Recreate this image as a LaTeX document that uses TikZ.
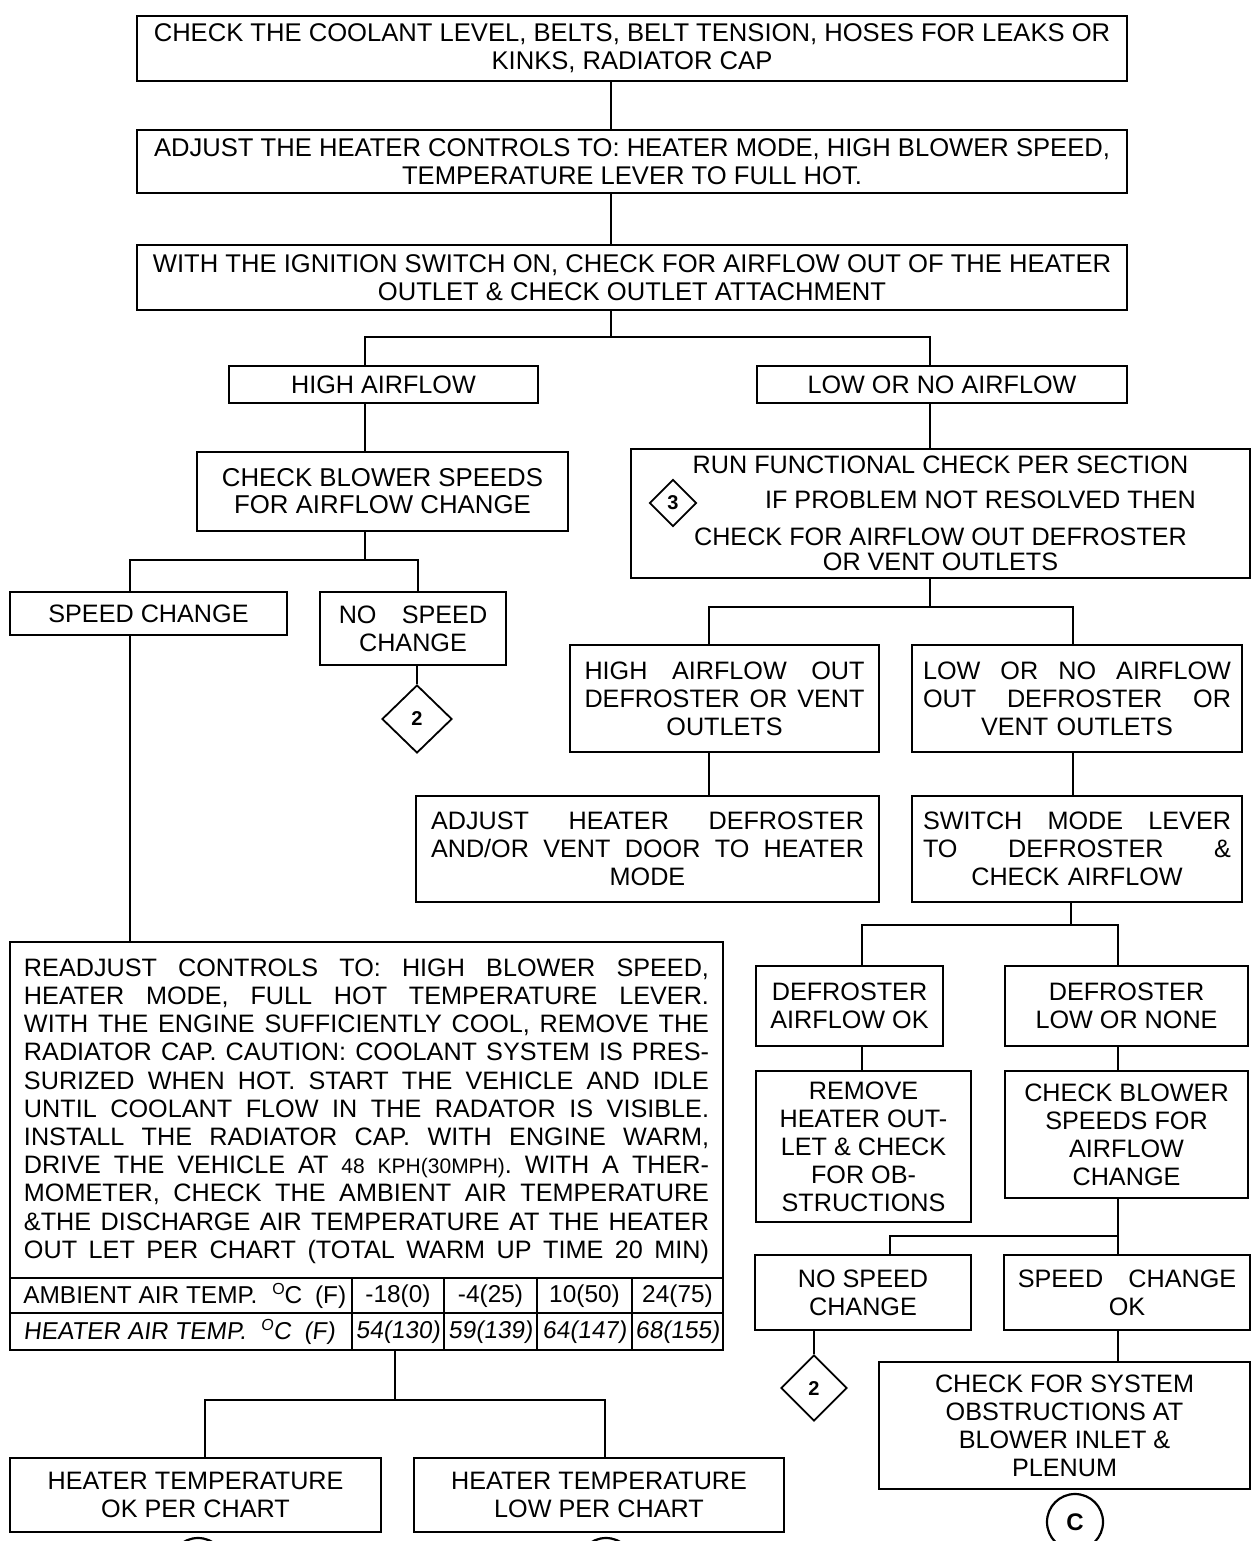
\documentclass[tikz,border=0pt]{standalone}
\usepackage{fontspec}
\setmainfont{Liberation Sans}
\newfontfamily\slantfont[FakeSlant=0.12]{Liberation Sans}
\usetikzlibrary{shapes.geometric}

% one justified line of a block paragraph, as wide as \jlw
\newlength\jlw
\newcommand\jl[1]{\leavevmode\hbox to\jlw{\spaceskip=0.28em plus 1fil\relax #1}}
% small raised "O" used as degree mark
\newcommand\degO{\raisebox{0.75ex}{\fontsize{8}{8}\selectfont O}}
% rectangular step box given by its corners (x1,y1)-(x2,y2)
\newcommand\flowbox[7][]{%
  \node[box,#1,minimum width={(#5-#3)*0.5pt},minimum height={(#6-#4)*0.5pt}]
    (#2) at ({(#3+#5)/2},{(#4+#6)/2}) {#7};}

\tikzset{
  box/.style={draw, line width=1pt, inner sep=0pt, align=center,
              font=\fontsize{12.6}{14}\selectfont},
  link/.style={line width=0.8pt},
  tag/.style={diamond, draw, line width=0.9pt, inner sep=0pt,
              font=\bfseries\fontsize{10}{10}\selectfont},
  ring/.style={circle, draw, line width=1.1pt, inner sep=0pt, minimum size=28pt,
               font=\bfseries\fontsize{12}{12}\selectfont},
  cell/.style={inner sep=0pt, font=\fontsize{12.2}{14}\selectfont},
  scell/.style={cell, font=\slantfont\fontsize{12.2}{14}\selectfont},
}

\begin{document}
\begin{tikzpicture}[x=0.5pt, y=-0.5pt]
\path[use as bounding box] (0,0) rectangle (1255,1541);
\clip (0,0) rectangle (1255,1541);
\fill[white] (0,0) rectangle (1255,1541);

% ---- main trunk ----
\flowbox[font=\fontsize{12.8}{14}\selectfont]{chk}{137}{16}{1127}{81}{CHECK THE COOLANT LEVEL, BELTS, BELT TENSION, HOSES FOR LEAKS OR\\KINKS, RADIATOR CAP}
\flowbox[font=\fontsize{12.8}{14}\selectfont]{adjc}{137}{130}{1127}{193}{ADJUST THE HEATER CONTROLS TO: HEATER MODE, HIGH BLOWER SPEED,\\TEMPERATURE LEVER TO FULL HOT.}
\flowbox[font=\fontsize{12.8}{14}\selectfont]{ign}{137}{245}{1127}{310}{WITH THE IGNITION SWITCH ON, CHECK FOR AIRFLOW OUT OF THE HEATER\\OUTLET \& CHECK OUTLET ATTACHMENT}

\flowbox{hi}{229}{366}{538}{403}{HIGH AIRFLOW}
\flowbox{lo}{757}{366}{1127}{403}{LOW OR NO AIRFLOW}

% ---- left branch ----
\flowbox[font=\fontsize{12.9}{13.6}\selectfont]{cbs}{197}{452}{568}{531}{CHECK BLOWER SPEEDS\\FOR AIRFLOW CHANGE}
\flowbox{spc}{10}{592}{287}{635}{SPEED CHANGE}
\flowbox{nsc}{320}{592}{506}{665}{NO\quad SPEED\\CHANGE}
\node[tag, minimum width=35pt, minimum height=34pt] (d2a) at (417,719) {2};

\flowbox{big}{10}{942}{723}{1350}{}
\node[cell, text width=342.5pt, align=left, font=\fontsize{12.6}{14.1}\selectfont] (para) at (366.5,1111) {%
\setlength\jlw{342.5pt}%
\jl{READJUST CONTROLS TO: HIGH BLOWER SPEED,}\\
\jl{HEATER MODE, FULL HOT TEMPERATURE LEVER.}\\
\jl{WITH THE ENGINE SUFFICIENTLY COOL, REMOVE THE}\\
\jl{RADIATOR CAP. CAUTION: COOLANT SYSTEM IS PRES-}\\
\jl{SURIZED WHEN HOT. START THE VEHICLE AND IDLE}\\
\jl{UNTIL COOLANT FLOW IN THE RADATOR IS VISIBLE.}\\
\jl{INSTALL THE RADIATOR CAP. WITH ENGINE WARM,}\\
\jl{DRIVE THE VEHICLE AT {\fontsize{10.5}{12}\selectfont 48 KPH(30MPH)}. WITH A THER-}\\
\jl{MOMETER, CHECK THE AMBIENT AIR TEMPERATURE}\\
\jl{\&THE DISCHARGE AIR TEMPERATURE AT THE HEATER}\\
\jl{OUT LET PER CHART (TOTAL WARM UP TIME 20 MIN)}};

% temperature chart inside the lower part of the box
\draw[line width=0.9pt] (big.west |- 0,1278) -- (big.east |- 0,1278);
\draw[line width=0.9pt] (big.west |- 0,1313) -- (big.east |- 0,1313);
\foreach \c in {352,444,537,632} \draw[line width=0.9pt] (\c,1278) -- (\c,1350);
\node[cell, anchor=west] (amb) at (23,1296) {AMBIENT AIR TEMP.\hspace{4pt} \degO C\hspace{3pt} (F)};
\node[cell] (a1) at (398,1296) {-18(0)};
\node[cell] (a2) at (490.5,1296) {-4(25)};
\node[cell] (a3) at (584.5,1296) {10(50)};
\node[cell] (a4) at (677.5,1296) {24(75)};
\node[scell, anchor=west] (hea) at (23,1332) {HEATER AIR TEMP.\hspace{4pt} \degO C\hspace{3pt} (F)};
\node[scell] (h1) at (398,1332) {54(130)};
\node[scell] (h2) at (490.5,1332) {59(139)};
\node[scell] (h3) at (584.5,1332) {64(147)};
\node[scell] (h4) at (677.5,1332) {68(155)};

\flowbox{tok}{10}{1458}{381}{1532}{HEATER TEMPERATURE\\OK PER CHART}
\flowbox{tlo}{414}{1458}{784}{1532}{HEATER TEMPERATURE\\LOW PER CHART}
\node[ring] (ca) at (198,1566) {};
\node[ring] (cb) at (606,1566) {};

% ---- right branch ----
\flowbox{run}{631}{449}{1250}{578}{RUN FUNCTIONAL CHECK PER SECTION\\[3.5pt]\hspace*{40pt}IF PROBLEM NOT RESOLVED THEN\\[4.5pt]CHECK FOR AIRFLOW OUT DEFROSTER\\[-1.5pt]OR VENT OUTLETS}
\node[tag, minimum width=23.5pt, minimum height=23.5pt] (d3) at (673,503) {3};

\flowbox[text width=140pt]{hao}{570}{645}{879}{752}{\setlength\jlw{140pt}\jl{HIGH AIRFLOW OUT}\\\jl{DEFROSTER OR VENT}\\OUTLETS}
\flowbox[text width=154pt]{lno}{912}{645}{1242}{752}{\setlength\jlw{154pt}\jl{LOW OR NO AIRFLOW}\\\jl{OUT DEFROSTER OR}\\VENT OUTLETS}
\flowbox[text width=216.5pt]{adj}{416}{796}{879}{902}{\setlength\jlw{216.5pt}\jl{ADJUST HEATER DEFROSTER}\\\jl{AND/OR VENT DOOR TO HEATER}\\MODE}
\flowbox[text width=154pt]{sw}{912}{796}{1242}{902}{\setlength\jlw{154pt}\jl{SWITCH MODE LEVER}\\\jl{TO DEFROSTER \&}\\CHECK AIRFLOW}

\flowbox{dok}{756}{966}{943}{1046}{DEFROSTER\\AIRFLOW OK}
\flowbox{dlo}{1005}{966}{1248}{1046}{DEFROSTER\\LOW OR NONE}
\flowbox{rem}{756}{1071}{971}{1222}{REMOVE\\HEATER OUT-\\LET \& CHECK\\FOR OB-\\STRUCTIONS}
\flowbox{cbs2}{1005}{1071}{1248}{1198}{CHECK BLOWER\\SPEEDS FOR\\AIRFLOW\\CHANGE}
\flowbox{nsc2}{755}{1255}{971}{1330}{NO SPEED\\CHANGE}
\flowbox{sco}{1004}{1255}{1250}{1330}{SPEED\quad CHANGE\\OK}
\node[tag, minimum width=33pt, minimum height=33pt] (d2b) at (814,1388) {2};
\flowbox{sys}{879}{1362}{1250}{1489}{CHECK FOR SYSTEM\\OBSTRUCTIONS AT\\BLOWER INLET \&\\PLENUM}
\node[ring] (cc) at (1075,1522) {C};

% ---- connectors ----
\coordinate (j1) at (611,337);
\coordinate (j2) at (365,560);
\coordinate (j3) at (930,607);
\coordinate (j4) at (1071,925);
\coordinate (j5) at (1118,1236);
\coordinate (j6) at (395,1400);

\draw[link] (chk.south -| 611,0) -- (adjc.north -| 611,0);
\draw[link] (adjc.south -| 611,0) -- (ign.north -| 611,0);
\draw[link] (ign.south -| j1) -- (j1);
\draw[link] (hi.north -| 365,0) |- (j1) -| (lo.north -| 930,0);
\draw[link] (hi.south -| 365,0) -- (cbs.north -| 365,0);
\draw[link] (lo.south -| 930,0) -- (run.north -| 930,0);

\draw[link] (cbs.south -| j2) -- (j2);
\draw[link] (spc.north -| 130,0) |- (j2) -| (nsc.north -| 418,0);
\draw[link] (nsc.south -| d2a.north) -- (d2a.north);
\draw[link] (spc.south -| 130,0) -- (big.north -| 130,0);
\draw[link] (big.south -| j6) -- (j6);
\draw[link] (tok.north -| 205,0) |- (j6) -| (tlo.north -| 605,0);

\draw[link] (run.south -| j3) -- (j3);
\draw[link] (hao.north -| 709,0) |- (j3) -| (lno.north -| 1073,0);
\draw[link] (hao.south -| 709,0) -- (adj.north -| 709,0);
\draw[link] (lno.south -| 1073,0) -- (sw.north -| 1073,0);
\draw[link] (sw.south -| j4) -- (j4);
\draw[link] (dok.north -| 862,0) |- (j4) -| (dlo.north -| 1118,0);
\draw[link] (dok.south -| 862,0) -- (rem.north -| 862,0);
\draw[link] (dlo.south -| 1118,0) -- (cbs2.north -| 1118,0);
\draw[link] (cbs2.south -| j5) -- (sco.north -| j5);
\draw[link] (nsc2.north -| 890,0) |- (j5);
\draw[link] (nsc2.south -| d2b.north) -- (d2b.north);
\draw[link] (sco.south -| 1118,0) -- (sys.north -| 1118,0);
\end{tikzpicture}
\end{document}
